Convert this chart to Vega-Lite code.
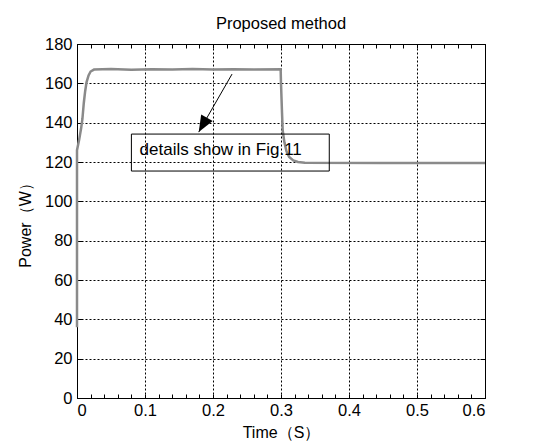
{
  "$schema": "https://vega.github.io/schema/vega-lite/v6.json",
  "width": 408,
  "height": 354,
  "autosize": {"type": "none"},
  "padding": {"left": 77, "top": 44, "right": 48, "bottom": 43},
  "background": "white",
  "title": {"text": "Proposed method", "fontSize": 16.5, "font": "Liberation Sans", "fontWeight": "normal", "color": "black", "frame": "group", "offset": 4, "anchor": "middle"},
  "config": {
    "view": {"stroke": "black", "strokeWidth": 1},
    "axis": {
      "labelFont": "Liberation Sans", "titleFont": "Liberation Sans",
      "labelFontSize": 16.5, "titleFontSize": 16,
      "labelColor": "black", "titleColor": "black", "titleFontWeight": "normal",
      "domain": false, "ticks": false, "minExtent": 0,
      "gridColor": "black", "gridDash": [2, 2], "gridOpacity": 1, "gridWidth": 1
    }
  },
  "datasets": {
    "power": [
      {"i": 0, "t": 0, "p": 36},
      {"i": 1, "t": 0, "p": 126},
      {"i": 2, "t": 0.003, "p": 131},
      {"i": 3, "t": 0.006, "p": 137},
      {"i": 4, "t": 0.008, "p": 142},
      {"i": 5, "t": 0.010, "p": 150},
      {"i": 6, "t": 0.012, "p": 156},
      {"i": 7, "t": 0.014, "p": 160.5},
      {"i": 8, "t": 0.017, "p": 164},
      {"i": 9, "t": 0.020, "p": 166},
      {"i": 10, "t": 0.025, "p": 167},
      {"i": 11, "t": 0.05, "p": 167.3},
      {"i": 12, "t": 0.08, "p": 166.9},
      {"i": 13, "t": 0.11, "p": 167.2},
      {"i": 14, "t": 0.14, "p": 167.0},
      {"i": 15, "t": 0.17, "p": 167.3},
      {"i": 16, "t": 0.2, "p": 167.0},
      {"i": 17, "t": 0.23, "p": 167.2},
      {"i": 18, "t": 0.26, "p": 167.0},
      {"i": 19, "t": 0.2995, "p": 167.1},
      {"i": 20, "t": 0.3, "p": 160},
      {"i": 21, "t": 0.3015, "p": 145},
      {"i": 22, "t": 0.3025, "p": 136},
      {"i": 23, "t": 0.305, "p": 130},
      {"i": 24, "t": 0.308, "p": 125.5},
      {"i": 25, "t": 0.312, "p": 122.5},
      {"i": 26, "t": 0.318, "p": 120.8},
      {"i": 27, "t": 0.325, "p": 120},
      {"i": 28, "t": 0.335, "p": 119.6},
      {"i": 29, "t": 0.45, "p": 119.5},
      {"i": 30, "t": 0.6, "p": 119.5}
    ],
    "box": [{"x0": 0.08, "x1": 0.371, "y0": 115.4, "y1": 134.2}],
    "note": [{"t": 0.092, "p": 126, "label": "details show in Fig.11"}],
    "arrow": [{"t0": 0.228, "p0": 164.7, "t1": 0.179, "p1": 135.2}]
  },
  "layer": [
    {
      "data": {"name": "power"},
      "mark": {"type": "line", "color": "#8a8a8a", "strokeWidth": 2.5},
      "encoding": {
        "x": {"field": "t", "type": "quantitative",
          "scale": {"domain": [0, 0.6], "nice": false, "zero": false},
          "axis": {"orient": "bottom", "values": [0, 0.1, 0.2, 0.3, 0.4, 0.5, 0.6], "format": "~g", "grid": true, "labelPadding": 4, "title": "Time（S）", "titlePadding": 6}},
        "y": {"field": "p", "type": "quantitative",
          "scale": {"domain": [0, 180], "nice": false, "zero": false},
          "axis": {"orient": "left", "values": [0, 20, 40, 60, 80, 100, 120, 140, 160, 180], "format": "d", "grid": true, "labelPadding": 5, "title": "Power（W）", "titlePadding": 11}},
        "order": {"field": "i", "type": "quantitative"}
      }
    },
    {
      "data": {"name": "box"},
      "mark": {"type": "rect", "fill": "white", "fillOpacity": 0, "stroke": "black", "strokeWidth": 1},
      "encoding": {
        "x": {"field": "x0", "type": "quantitative",
          "scale": {"domain": [0, 0.6], "nice": false, "zero": false},
          "axis": {"orient": "top", "values": [0, 0.02, 0.04, 0.06, 0.08, 0.1, 0.12, 0.14, 0.16, 0.18, 0.2, 0.22, 0.24, 0.26, 0.28, 0.3, 0.32, 0.34, 0.36, 0.38, 0.4, 0.42, 0.44, 0.46, 0.48, 0.5, 0.52, 0.54, 0.56, 0.58, 0.6], "ticks": true, "tickSize": -4, "tickColor": "black", "labels": false, "grid": false, "title": null}},
        "x2": {"field": "x1"},
        "y": {"field": "y0", "type": "quantitative",
          "scale": {"domain": [0, 180], "nice": false, "zero": false},
          "axis": {"orient": "right", "values": [0, 20, 40, 60, 80, 100, 120, 140, 160, 180], "ticks": true, "tickSize": -5, "tickColor": "black", "labels": false, "grid": false, "title": null}},
        "y2": {"field": "y1"}
      }
    },
    {
      "data": {"name": "note"},
      "mark": {"type": "text", "align": "left", "baseline": "middle", "font": "Liberation Sans", "fontSize": 17, "color": "black"},
      "encoding": {
        "x": {"field": "t", "type": "quantitative",
          "scale": {"domain": [0, 0.6], "nice": false, "zero": false},
          "axis": {"orient": "bottom", "values": [0, 0.02, 0.04, 0.06, 0.08, 0.1, 0.12, 0.14, 0.16, 0.18, 0.2, 0.22, 0.24, 0.26, 0.28, 0.3, 0.32, 0.34, 0.36, 0.38, 0.4, 0.42, 0.44, 0.46, 0.48, 0.5, 0.52, 0.54, 0.56, 0.58, 0.6], "ticks": true, "tickSize": -4, "tickColor": "black", "labels": false, "grid": false, "title": null}},
        "y": {"field": "p", "type": "quantitative",
          "scale": {"domain": [0, 180], "nice": false, "zero": false},
          "axis": {"orient": "left", "values": [0, 20, 40, 60, 80, 100, 120, 140, 160, 180], "ticks": true, "tickSize": -5, "tickColor": "black", "labels": false, "grid": false, "title": null}},
        "text": {"field": "label", "type": "nominal"}
      }
    },
    {
      "data": {"name": "arrow"},
      "mark": {"type": "rule", "color": "black", "strokeWidth": 1},
      "encoding": {
        "x": {"field": "t0", "type": "quantitative", "scale": {"domain": [0, 0.6], "nice": false, "zero": false}, "axis": null},
        "y": {"field": "p0", "type": "quantitative", "scale": {"domain": [0, 180], "nice": false, "zero": false}, "axis": null},
        "x2": {"field": "t1"},
        "y2": {"field": "p1"}
      }
    },
    {
      "data": {"name": "arrow"},
      "mark": {"type": "point", "shape": "M0,0L-0.4,1L0.4,1Z", "size": 1100, "angle": 209.7, "filled": true, "color": "black", "opacity": 1, "strokeWidth": 0},
      "encoding": {
        "x": {"field": "t1", "type": "quantitative", "scale": {"domain": [0, 0.6], "nice": false, "zero": false}, "axis": null},
        "y": {"field": "p1", "type": "quantitative", "scale": {"domain": [0, 180], "nice": false, "zero": false}, "axis": null}
      }
    }
  ],
  "resolve": {"axis": {"x": "independent", "y": "independent"}}
}
